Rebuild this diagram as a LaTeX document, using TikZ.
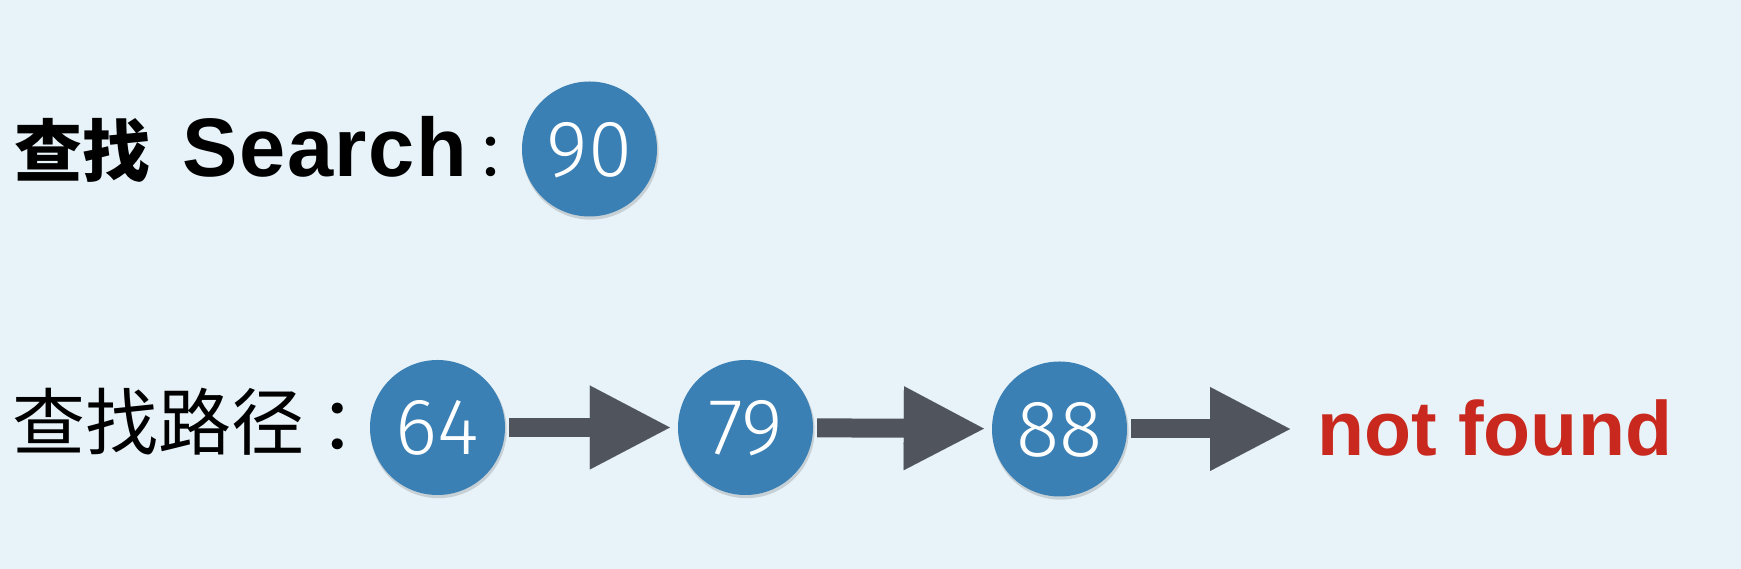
\documentclass[tikz,border=0pt]{standalone}
\usepackage{fontspec}
\setmainfont{Liberation Sans}
\newfontfamily\cjk{Noto Sans CJK SC}
\IfFontExistsTF{Fira Sans Light}
  {\newfontfamily\numfont{Fira Sans Light}}
  {\newfontfamily\numfont{Liberation Sans}}
\usetikzlibrary{arrows.meta,shadows}
\definecolor{bgblue}{HTML}{E8F3F9}
\definecolor{nodeblue}{HTML}{3A80B4}
\definecolor{arrowgray}{HTML}{50545C}
\definecolor{nfred}{HTML}{C8281E}
\tikzset{
  numnode/.style={circle, fill=nodeblue, minimum size=135pt, inner sep=0pt,
    text=white, text depth=0pt, font=\numfont\fontsize{80}{80}\selectfont,
    drop shadow={shadow xshift=1pt, shadow yshift=-2.5pt, shadow scale=1.01, opacity=0.14, fill=black}},
  patharrow/.style={draw=arrowgray, line width=19pt,
    -{Triangle[length=80pt,width=84pt,line width=0.01pt]}, shorten <=4pt},
  label/.style={inner sep=0pt, text=black}
}
\begin{document}
\begin{tikzpicture}[x=1pt,y=1pt]
\fill[bgblue] (0,0) rectangle (1741,569);
\useasboundingbox (0,0) rectangle (1741,569);
% search line
\node[label, anchor=base west, font=\fontsize{83}{83}\selectfont] (search) at (14,392)
  {{\cjk\bfseries\fontsize{68}{68}\selectfont 查找}\hspace{32pt}{\addfontfeature{LetterSpace=2}\textbf{Search}}{\cjk\fontsize{62}{62}\selectfont\hspace{6pt}：}};
\node[numnode] (n90) at (589.5,420) {90};
% path line
\node[label, anchor=west, font=\cjk\fontsize{73}{73}\selectfont] (pathlbl) at (12,147.5)
  {查找路径\hspace{15.5pt}：};
\node[numnode] (n64) at (437.5,141.5) {64};
\node[numnode] (n79) at (745.5,141.5) {79};
\node[numnode] (n88) at (1059.5,140) {88};
\node[label, anchor=base west, text=nfred, font=\fontsize{77}{77}\selectfont\bfseries] (nf) at (1317,113) {not found};
\draw[patharrow, shorten >=8pt] (n64) -- (n79);
\draw[patharrow, shorten >=8pt] (n79) -- (n88);
\draw[patharrow, shorten >=27pt] (n88.east) -- (n88.east -| nf.west);
\end{tikzpicture}
\end{document}
